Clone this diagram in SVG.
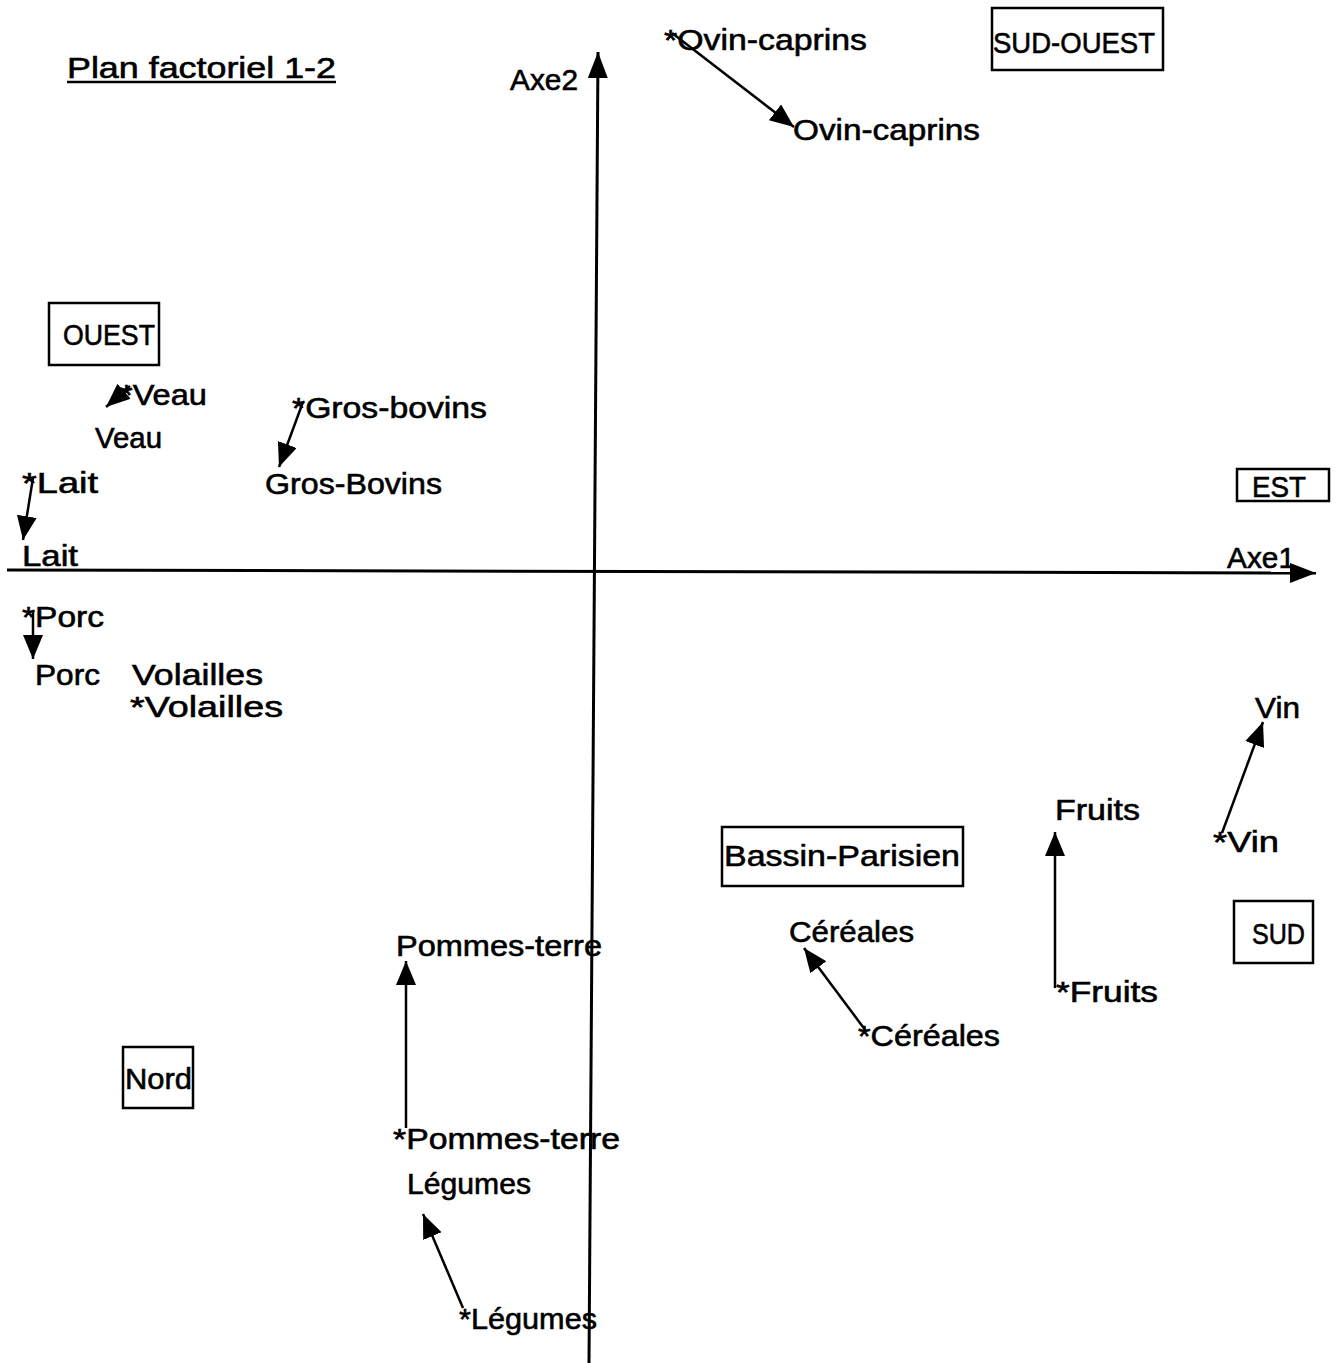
<svg xmlns="http://www.w3.org/2000/svg" width="1344" height="1363" viewBox="0 0 1344 1363">
<style>
text{font-family:"Liberation Sans",Arial,sans-serif;font-size:30px;fill:#000;stroke:#000;stroke-width:0.6}
.box{fill:none;stroke:#000;stroke-width:2.5}
.ax{stroke:#000;stroke-width:3;fill:none}
.ar{stroke:#000;stroke-width:2.5;fill:none;marker-end:url(#ah)}
</style>
<defs>
<marker id="ah" markerUnits="userSpaceOnUse" markerWidth="26" markerHeight="22" refX="24" refY="10" orient="auto" viewBox="0 0 26 22">
<path d="M0,0 L24,10 L0,20 z" fill="#000"/>
</marker>
<marker id="axh" markerUnits="userSpaceOnUse" markerWidth="28" markerHeight="22" refX="26" refY="10" orient="auto" viewBox="0 0 28 22">
<path d="M0,0 L26,10 L0,20 z" fill="#000"/>
</marker>
</defs>
<rect width="1344" height="1363" fill="#fff"/>
<g id="title">
<text x="67" y="78" textLength="269" lengthAdjust="spacingAndGlyphs">Plan factoriel 1-2</text>
<line x1="67" y1="82" x2="336" y2="82" stroke="#000" stroke-width="2.5"/>
</g>
<g id="axes">
<line class="ax" x1="589" y1="1363" x2="598" y2="52" marker-end="url(#axh)"/>
<line class="ax" x1="7" y1="570" x2="1316" y2="573" marker-end="url(#axh)"/>
<text x="510" y="90" textLength="68" lengthAdjust="spacingAndGlyphs">Axe2</text>
<text x="1227" y="568" textLength="68" lengthAdjust="spacingAndGlyphs">Axe1</text>
</g>
<g id="connectors">
<line class="ar" x1="672" y1="33" x2="794" y2="127"/>
<line class="ar" x1="130" y1="386" x2="106" y2="407"/>
<line class="ar" x1="303" y1="402" x2="279" y2="467"/>
<line class="ar" x1="33" y1="478" x2="23" y2="540"/>
<line class="ar" x1="33" y1="610" x2="33" y2="659"/>
<line class="ar" x1="1222" y1="833" x2="1263" y2="722"/>
<line class="ar" x1="1055" y1="988" x2="1055" y2="832"/>
<line class="ar" x1="866" y1="1031" x2="804" y2="948"/>
<line class="ar" x1="406" y1="1128" x2="406" y2="961"/>
<line class="ar" x1="463" y1="1308" x2="423" y2="1214"/>
</g>
<g id="box-sud-ouest"><rect class="box" x="992" y="8" width="171" height="62"/><text x="993" y="53" textLength="162" lengthAdjust="spacingAndGlyphs">SUD-OUEST</text></g>
<g id="box-ouest"><rect class="box" x="49" y="303" width="110" height="62"/><text x="63" y="345" textLength="92" lengthAdjust="spacingAndGlyphs">OUEST</text></g>
<g id="box-est"><rect class="box" x="1237" y="469" width="92" height="32"/><text x="1252" y="497" textLength="54" lengthAdjust="spacingAndGlyphs">EST</text></g>
<g id="box-bassin"><rect class="box" x="722" y="827" width="241" height="59"/><text x="724" y="866" textLength="236" lengthAdjust="spacingAndGlyphs">Bassin-Parisien</text></g>
<g id="box-sud"><rect class="box" x="1234" y="901" width="79" height="62"/><text x="1252" y="944" textLength="53" lengthAdjust="spacingAndGlyphs">SUD</text></g>
<g id="box-nord"><rect class="box" x="123" y="1047" width="70" height="61"/><text x="125" y="1089" textLength="67" lengthAdjust="spacingAndGlyphs">Nord</text></g>
<g id="ovin-1"><text x="664" y="50" textLength="203" lengthAdjust="spacingAndGlyphs">*Ovin-caprins</text></g>
<g id="ovin-2"><text x="793" y="140" textLength="187" lengthAdjust="spacingAndGlyphs">Ovin-caprins</text></g>
<g id="veau-1"><text x="120" y="405" textLength="87" lengthAdjust="spacingAndGlyphs">*Veau</text></g>
<g id="veau-2"><text x="95" y="448" textLength="67" lengthAdjust="spacingAndGlyphs">Veau</text></g>
<g id="gros-1"><text x="292" y="418" textLength="195" lengthAdjust="spacingAndGlyphs">*Gros-bovins</text></g>
<g id="gros-2"><text x="265" y="494" textLength="177" lengthAdjust="spacingAndGlyphs">Gros-Bovins</text></g>
<g id="lait-1"><text x="22" y="493" textLength="76" lengthAdjust="spacingAndGlyphs">*Lait</text></g>
<g id="lait-2"><text x="22" y="566" textLength="56" lengthAdjust="spacingAndGlyphs">Lait</text></g>
<g id="porc-1"><text x="22" y="627" textLength="82" lengthAdjust="spacingAndGlyphs">*Porc</text></g>
<g id="porc-2"><text x="35" y="685" textLength="65" lengthAdjust="spacingAndGlyphs">Porc</text></g>
<g id="volailles-2"><text x="132" y="685" textLength="131" lengthAdjust="spacingAndGlyphs">Volailles</text></g>
<g id="volailles-1"><text x="130" y="717" textLength="153" lengthAdjust="spacingAndGlyphs">*Volailles</text></g>
<g id="vin-2"><text x="1255" y="718" textLength="45" lengthAdjust="spacingAndGlyphs">Vin</text></g>
<g id="vin-1"><text x="1213" y="852" textLength="66" lengthAdjust="spacingAndGlyphs">*Vin</text></g>
<g id="fruits-2"><text x="1055" y="820" textLength="85" lengthAdjust="spacingAndGlyphs">Fruits</text></g>
<g id="fruits-1"><text x="1056" y="1002" textLength="102" lengthAdjust="spacingAndGlyphs">*Fruits</text></g>
<g id="cereales-2"><text x="789" y="942" textLength="125" lengthAdjust="spacingAndGlyphs">Céréales</text></g>
<g id="cereales-1"><text x="858" y="1046" textLength="142" lengthAdjust="spacingAndGlyphs">*Céréales</text></g>
<g id="pommes-2"><text x="396" y="956" textLength="206" lengthAdjust="spacingAndGlyphs">Pommes-terre</text></g>
<g id="pommes-1"><text x="393" y="1149" textLength="227" lengthAdjust="spacingAndGlyphs">*Pommes-terre</text></g>
<g id="legumes-2"><text x="407" y="1194" textLength="124" lengthAdjust="spacingAndGlyphs">Légumes</text></g>
<g id="legumes-1"><text x="459" y="1329" textLength="138" lengthAdjust="spacingAndGlyphs">*Légumes</text></g>
</svg>
